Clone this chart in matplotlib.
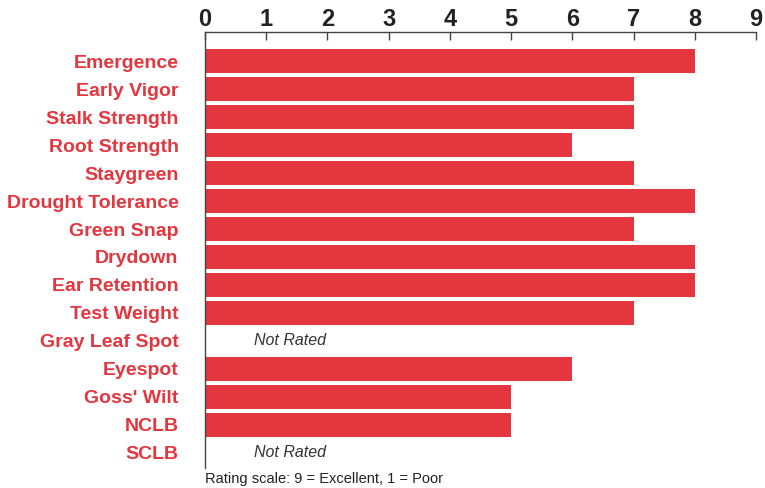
import numpy as np
import matplotlib
matplotlib.use('Agg')
from matplotlib import pyplot as plt

traits = ['Emergence', 'Early Vigor', 'Stalk Strength', 'Root Strength', 'Staygreen',
          'Drought Tolerance', 'Green Snap', 'Drydown', 'Ear Retention', 'Test Weight',
          'Gray Leaf Spot', 'Eyespot', "Goss' Wilt", 'NCLB', 'SCLB']
ratings = [8, 7, 7, 6, 7, 8, 7, 8, 8, 7, None, 6, 5, 5, None]
red = '#E3363E'

plt.rcParams['font.family'] = ['Liberation Sans', 'DejaVu Sans']

fig = plt.figure(figsize=(7.65, 4.88), dpi=100)
ax = fig.add_axes([205/765, 20/488, 551/765, 436/488])

y = np.arange(len(traits))
vals = [v if v is not None else 0 for v in ratings]
ax.barh(y, vals, height=0.86, color=red, zorder=2)
for i, v in enumerate(ratings):
    if v is None:
        ax.text(0.8, i, 'Not Rated', style='italic', fontsize=11.5, color='#333333',
                va='center', ha='left')

ax.set_xlim(0, 9)
ax.set_ylim(14.54, -1.04)
ax.set_xticks(range(10))
ax.xaxis.tick_top()
ax.tick_params(axis='x', direction='in', length=6, width=1, color='#444444',
               labelsize=17, pad=1)
for lbl in ax.get_xticklabels():
    lbl.set_fontweight('bold')
    lbl.set_color('#222222')

ax.set_yticks(y)
ax.set_yticklabels(traits, fontsize=14, fontweight='bold', color=red)
ax.tick_params(axis='y', length=0, pad=19)

for s in ['right', 'bottom']:
    ax.spines[s].set_visible(False)
for s in ['top', 'left']:
    ax.spines[s].set_color('#444444')
    ax.spines[s].set_linewidth(1)

fig.text(205/765, 1 - 479/488, 'Rating scale: 9 = Excellent, 1 = Poor', fontsize=10.5,
         color='#222222', va='center', ha='left')

fig.savefig('out.png', dpi=100)
